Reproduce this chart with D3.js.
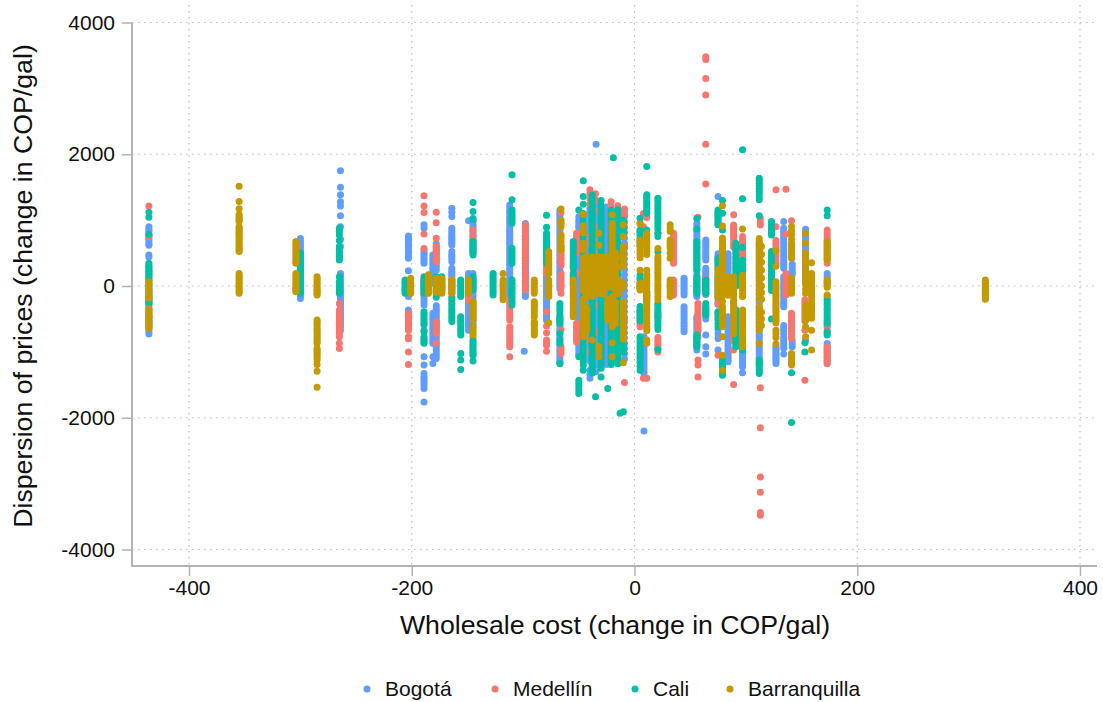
<!DOCTYPE html>
<html>
<head>
<meta charset="utf-8">
<script src="https://cdn.jsdelivr.net/npm/d3@7"></script>
<style>
    html, body { margin: 0; padding: 0; background: #fff; }
    text { font-family: "Liberation Sans", Arial, sans-serif; fill: #111; }
</style>
</head>
<body>
<svg id="chart" width="1103" height="702"></svg>
<script>
// each row: [wholesale cost change, [price dispersion changes]]
const cities = ["Bogotá", "Medellín", "Cali", "Barranquilla"];
const cityColors = ["#619CFF", "#F8766D", "#00BFA5", "#C49A00"];
const xTicks = [-400, -200, 0, 200, 400];
const yTicks = [-4000, -2000, 0, 2000, 4000];

const bogota = [
    [-436, [900,860,830,790,760,720,690,650,620,470,440,290,250,220,180,150,110,80,40,10,-30,-60,-100,-130,-170,-200,-240,-270,-300,-340,-380,-410,-450,-480,-520,-550,-590,-620,-660,-700,-730]],
    [-300, [720,680,650,610,580,540,510,470,440,400,370,330,300,260,230,190,160,120,90,50,20,-20,-50,-90,-120,-160,-190]],
    [-264, [1750,1500,1385,1280,1215,1065,900,710,600,190,150,120,80,50,10,-20,-60,-90,-130,-160,-200,-230,-270,-300,-340,-370,-410,-440,-480,-510,-550,-580,-630,-670]],
    [-203, [760,730,710,680,650,620,590,560,530,500,470,440,420,233,-160,-365,-400,-440,-480,-520,-570,-620]],
    [-189, [930,880,550,510,480,440,410,380,345,90,50,20,-10,-50,-90,-120,-150,-190,-240,-290,-670,-1075,-1200,-1330,-1370,-1400,-1440,-1470,-1510,-1555,-1760]],
    [-181, [470,430,400,360,330,290,260,220,190,150,120,80,40,-415,-450,-490,-520,-560,-600,-640,-680,-720,-760,-800,-840,-870,-1075,-1175]],
    [-178, [640,600,560,520,480,440,400,360,320,280,240,-300,-340,-380,-420,-460,-500,-540,-580,-620,-660,-700,-740,-780,-820,-860,-900,-940,-980,-1020,-1060,-1100]],
    [-164, [1180,1120,1055,877,840,810,770,740,710,680,650,624,522,480,450,410,370,270,230,200,170,140,100,60,20,-20,-60,-100]],
    [-149, [990,190,150,120,80,50,10,-20,-60,-90,-130,-160,-200,-230,-270,-300,-340,-370,-410,-440,-480,-510,-550,-590,-630,-670]],
    [-145, [1030,990,960,920,890,850,820,780,750,710,680,640,610,580,560,530,500,190,140,100,60,20,-20,-60,-100,-140,-180,-220,-260,-300,-340,-380,-420,-460,-500,-530,-570,-600]],
    [-112, [1230,1190,1150,1120,1080,1040,1010,970,940,900,870,830,800,770,730,700,660,630,590,550,520,490,450,410,380,340,310,270,240,190,150,120,80,50,10,-20,-60,-90,-130,-160]],
    [-98, [950,910,880,840,810,770,740,700,670,630,600,560,530,500,460,420,390,350,320,280,250,210,180,140,110,70,40,0,-30,-70,-100,-130,-160]],
    [-99, [-990]],
    [-79, [190,150,120,80,50,10,-20,-60,-90,-130,-160,-200,-230,-270,-300,-340,-370,-410,-440,-480,-520]],
    [-67, [1150,1110,1080,1040,1000,960,920,880,840,800,760,720,680,640,600,560,520,480,440,400,360,320,280,240,200,160,120,80,40,0,-40,-466,-500,-540,-580,-620,-660,-700,-740,-780,-820,-860,-900,-940,-980,-1020,-1060,-1100,-1140,-1176]],
    [-50, [1050,1000,960,920,890,840,800,760,720,680,640,600,560,520,480,440,400,360,320,280,240,200,160,120,80,40,0,-40,-80,-120,-160,-200,-240,-280,-320,-360,-400,-440,-480,-520,-560,-600,-640,-680,-720,-760,-800,-840,-880,-920,-960,-1000,-1040]],
    [-40, [1180,1140,1100,1060,1020,980,940,900,860,820,780,740,700,660,620,580,540,500,460,420,380,340,300,260,220,180,140,100,60,20,-20,-60,-100,-140,-180,-220,-260,-300,-340,-380,-420,-460,-500,-540,-580,-620,-660,-700,-740,-780,-820,-860,-900,-940,-980,-1020,-1060,-1100,-1140,-1280,-1340,-1400]],
    [-34.5, [2150,1300,1230,1150,1060,970,880,790,700,610,520,430,340,250,160,70,-20,-110,-200,-290,-380,-470,-560,-650,-740,-830,-920,-1010,-1100,-1200,-1300]],
    [-25, [1200,1160,1120,1080,1040,1000,960,920,880,840,800,760,720,680,640,600,560,520,480,440,400,360,320,280,240,200,160,120,80,40,0,-40,-80,-120,-160,-200,-240,-280,-320,-360,-400,-440,-480,-520,-560,-600,-640,-680,-720,-760,-800,-840,-880,-920,-960,-1000,-1040,-1080,-1120,-1190]],
    [-15, [1150,1110,1070,1030,990,950,910,870,830,790,750,710,670,630,590,550,510,470,430,390,350,310,270,230,190,150,110,70,30,-10,-50,-90,-130,-170,-210,-250,-290,-330,-370,-410,-450,-490,-530,-570,-610,-650,-690,-730,-770,-810,-850,-890,-930,-970,-1010,-1050,-1090,-1130,-1170]],
    [-9, [1130,1050,970,890,810,730,650,570,490,410,330,250,170,90,10,-70,-150,-230,-310,-390,-470,-550,-630,-710,-790,-870,-950,-1030,-1110]],
    [8.5, [-2200,-770,-810,-850,-890,-930,-970,-1010,-1050,-1090,-1130,-1170,-1210,-1250,-1290,-1330]],
    [44.5, [116,90,60,30,0,-30,-60,-100,-137,-314,-350,-390,-430,-470,-510,-550,-590,-620,-660,-695]],
    [56, [953,910,870,830,790,750,710,670,630,590,550,510,470,430,390,350,310,250,193,140,100,60,20,-20,-60,-100,-130,-160,-466,-500,-540,-580,-620,-660,-700,-740,-780,-820,-850,-890,-922,-973]],
    [64, [700,660,620,580,540,500,470,430,395,270,230,200,170,140,110,80,40,0,-40,-70,-100,-130,-330,-370,-410,-450,-500,-745,-922,-1034]],
    [75, [1360,1115,1070,1020,970,930,490,450,420,380,340,300,260,200,150,100,50,0,-40,-70,-110,-140,-180,-210,-250,-280,-665,-730,-796,-973]],
    [84, [490,450,420,380,340,300,260,230,190,-466,-500,-540,-580,-620,-660,-700,-740,-780,-820,-860,-900,-940,-980,-1020,-1060,-1090,-1120,-1150]],
    [97, [-973,-1010,-1040,-1080,-1110,-1140,-1170,-1200,-1227,-1318]],
    [112, [650,610,570,530,490,450,410,370,330,290,250,210,170,130,90,50,10,-30,-70,-110,-150,-190,-230,-270,-310,-350,-390,-430,-470,-510,-550,-590,-630,-670,-710,-750,-790,-830,-870,-910,-950,-990,-1030,-1070,-1100,-1140,-1176]],
    [127, [-922,-950,-980,-1020,-1050,-1080,-1110,-1140,-1176]],
    [134, [978,877,840,800,760,720,680,640,600,560,520,480,440,400,360,330,300,269,142,100,60,20,-20,-60,-100,-140,-180,-220,-260,-290,-314,-600,-640,-680,-730,-780,-820,-860,-900,-940,-1034]],
    [141.6, [330,290,250,210,170,-830,-880,-922]],
    [153.6, [860,820,780,740,700,660,620,580,540,500,460,420,380,340,300,260,220,180,140,100,60,-660,-820]],
    [173, [190,150,120,80,40,-872,-910,-950,-990,-1030,-1070,-1100,-1140,-1176]]
];

const medellin = [
    [-436, [1215,750,-570,-620]],
    [-303, [600,540]],
    [-265, [-264,-370,-410,-440,-480,-510,-550,-580,-620,-650,-690,-720,-770,-870,-948]],
    [-203, [-415,-450,-480,-510,-540,-580,-610,-640,-670,-770,-800,-1000,-1190]],
    [-189, [1370,1215,1115,790,570,-110]],
    [-178, [1120,960,725,600,560,530,490,460,420,390,370,-542,-570,-600,-630,-660,-690,-720,-870]],
    [-164, [90,50,20,-20,-50,-110,-160]],
    [-149, [-110,-160,-210]],
    [-145, [850,750,690,640,-770]],
    [-112, [-213,-250,-280,-320,-360,-400,-440,-480,-517,-618,-650,-690,-730,-770,-810,-850,-880,-922,-1075]],
    [-98, [927,880,826,750,710,670,630,590,550,510,470,430,390,345,270,190,150,120,80,50,0,-60]],
    [-79, [345,310,270,230,190,-390,-608,-710,-820,-860,-900,-990]],
    [-66, [1120,960,600,560,530,490,460,420,390,350,320,190,140,100,60,20,-30,-110,-660,-922,-970,-1024]],
    [-52, [800,760,720,680,650,610,570,530,500,190,-570,-610,-640,-680,-710,-750,-780,-820,-850]],
    [-40, [1460,1400,1320,1240,750,700,640,-750,-820,-1000]],
    [-35, [1400,1300,1150,900,700,500,200,-300,-700,-900]],
    [-21, [1280,1200,1100,900,600,-400,-700,-950]],
    [-15, [1220,1150,1050,950,700,450,-600,-1060]],
    [-9, [1170,1080,900,600,-500,-1465]],
    [5, [960,820,-380,-420,-460,-500,-540,-580,-620]],
    [8, [1100,900,-1400]],
    [11, [1040,-90,-130,-170,-640,-1400]],
    [21, [800,-400,-440,-480,-780,-820,-860,-900,-940,-1000]],
    [35, [800,760,720,680,640,600,560,530,490,450,420,380,345,90,50,20,-20,-60,-100,-137]],
    [57, [1045,-264,-300,-340,-380,-420,-460,-500,-540,-580,-620,-660,-700,-770,-1125,-1200,-1380]],
    [64, [3480,3440,3150,2900,2150,1550,100,50,0,-50,-110]],
    [75, [-264,-400,-1050]],
    [89, [1080,927,890,860,820,790,750,710,660,620,590,-780,-830,-973,-1495]],
    [97, [750,700,660,620,590,550,520,480,450,410,370,330,300]],
    [113, [1030,980,927,-1546,-2150,-2900,-3130,-3440,-3480]],
    [127, [1460,900,690,650,610,570,530,490,450,400,345]],
    [136, [1470,790,190,150,120,80,50,20,-20,-50,-80,-110,-137]],
    [141, [990,-415,-450,-480,-520,-560,-600,-640,-680,-720,-760,-796]],
    [153, [-1430,-210,-250,-290,-330,-370,-410,-450,-490,-530,-670]],
    [173, [850,800,760,720,680,640,600,560,520,480,430,390,345,-570,-600,-630,-680,-720,-922,-960,-1000,-1040,-1080,-1130,-1176]]
];

const cali = [
    [-436, [1120,1045,780,345,310,280,240,210,170,140,90,-160,-190,-210,-240,-265,-470]],
    [-300, [500,460,430,390,360,320,290,250,220,180,150,110,80,40,10,-30,-60,-80,-110]],
    [-265, [877,830,775,690,600,560,530,490,460,430,395,140,65,30,0,-30,-60,-80,-110]],
    [-206, [90,60,40,10,-20,-40,-60,-80,-110]],
    [-189, [140,110,80,50,20,-10,-40,-70,-110,-390,-420,-450,-490,-520,-560,-590,-695,-770,-800,-820,-850,-870]],
    [-178, [140,110,80,50,20,-10,-40,-70,-100,-130,-170]],
    [-173, [140,110,70,30,0,-30,-70]],
    [-164, [-187,-220,-260,-290,-330,-370,-400,-440,-470,-500,-540]],
    [-156, [90,60,30,0,-30,-60,-100,-130,-160,-466,-500,-530,-570,-600,-640,-670,-710,-745,-1024,-1125,-1267]],
    [-145, [1267,1130,1013,674,640,610,570,540,500,470,140,100,70,30,0,-30,-60,-820,-850,-880,-910,-940,-970,-1000,-1030,-1050,-1140]],
    [-127, [190,160,130,100,70,30,0,-30,-70,-100,-137]],
    [-110, [1688,1308,1155,1120,1080,1050,1020,990,953,572,530,500,460,420,380,345,90,50,20,-20,-50,-90,-120,-160,-210,-250,-290]],
    [-79, [1075,892,800,760,720,690,650,610,572,540,500,470,430,390,345]],
    [-67, [-264,-300,-340,-380,-420,-460,-500,-530,-570,-720,-820,-870,-1176]],
    [-55, [674,640,600,560,530,490,460,430,390,360,330,300,270,190,160,130,90,40]],
    [-50, [1155,-1075,-1430,-1480,-1530,-1580,-1630]],
    [-46, [1597,1360,1240,1100,1050,1000,950,900,850,800,750,700,650,600,550,500,450,400,350,300,250,200,150,100,50,0,-50,-100,-150,-200,-250,-300,-350,-400,-450,-500,-550,-600,-650,-700,-750,-800,-850,-900,-950,-1000,-1050,-1100,-1150,-1200,-1280]],
    [-38, [1380,1340,1300,1250,1200,1150,1110,1060,1020,980,930,880,840,800,750,700,660,610,570,530,480,430,390,340,300,250,210,160,120,70,30,-20,-60,-110,-150,-200,-240,-290,-330,-380,-420,-470,-510,-560,-600,-650,-690,-740,-780,-830,-870,-910,-960,-1000,-1050,-1090,-1140,-1190,-1230,-1280,-1320]],
    [-35, [-1683]],
    [-30, [1298,1230,1180,1130,1090,1040,1000,950,910,860,820,770,730,680,640,590,550,500,460,410,370,320,280,230,190,140,100,50,10,-40,-80,-130,-170,-220,-260,-310,-350,-400,-440,-490,-530,-580,-620,-670,-710,-760,-800,-850,-890,-930,-980,-1020,-1070,-1110,-1160,-1200,-1250,-1380]],
    [-24, [-1556]],
    [-21, [1150,1100,1060,1010,970,920,880,830,790,740,700,650,610,560,520,470,430,380,340,290,250,200,160,110,70,20,-20,-70,-110,-160,-200,-250,-290,-340,-380,-430,-470,-520,-560,-610,-650,-700,-740,-790,-830,-880,-920,-970,-1010,-1060,-1100,-1150,-1190]],
    [-19, [1945]],
    [-15, [1160,1110,1070,1020,980,930,890,840,800,750,710,660,620,570,530,480,440,390,350,300,260,210,170,120,80,30,-10,-60,-100,-150,-190,-240,-280,-330,-370,-420,-460,-510,-550,-600,-640,-690,-730,-780,-820,-870,-910,-960,-1000,-1050,-1090,-1140,-1180]],
    [-13, [-1930]],
    [-10, [-1910,1000,950,900,850,800,-900,-950,-1000]],
    [5, [1030,850,820,780,740,700,660,620,170,130,100,60,30,-10,-40,-310,-340,-380,-410,-450,-490,-530,-770,-800,-840,-880,-920,-960,-1000,-1040,-1080,-1120,-1160,-1220,-1278]],
    [11, [1815,1384,1350,1320,1280,1250,1210,1180,1140,1105,850,-100,-140,-180,-220,-260]],
    [21, [1333,1300,1260,1220,1180,1140,1100,1060,1020,980,940,900,860,800,750,520,-264,-300,-340,-380,-420,-460,-500,-540,-580,-620,-660,-963]],
    [56, [1030,867,674,640,600,570,530,490,460,420,390,350,320,280,243,142,100,70,30,0,-30,-60,-80,-110,-745,-770,-800,-830,-860,-890,-922]],
    [64, [90,50,20,-10,-40,-70,-110,-264,-300,-330,-360,-390,-420,-440]],
    [75, [1155,1120,1080,1050,1020,970,930,420,390,350,300,243,142,100,70,30,0,-30,-70,-110,-160,-390,-420,-450,-490,-520,-570,-620]],
    [79, [1298,1105,850,-1125,-1160,-1200,-1240,-1270,-1310,-1353]],
    [91, [650,610,580,540,500,470,430,400,360,330,290,260,220,190,150,120,80,40,0,-360,-400,-430,-470,-500,-540,-570,-610,-640,-680,-710,-750,-780,-820,-850,-890,-922]],
    [97, [2068,1323,588,395,360,330,290,260,220,190,-770,-800,-840,-870,-900,-940,-973]],
    [112, [1637,1600,1560,1520,1480,1440,1400,1350,1308,1065,-1125,-1160,-1190,-1220,-1260,-1290,-1328]],
    [123, [978,940,900,870,840,810,775,522,490,450,410,370,330,295,260,220,180,150,110,80,40,0,-30,-70,-500]],
    [141, [-2073,-1318]],
    [153, [-860,-1000]],
    [173, [1155,1065,-160,-200,-230,-270,-300,-340,-370,-410,-440,-480,-510,-540,-570,-700,-745]]
];

const barranquilla = [
    [-436, [65,30,10,-15,-40,-65,-90,-115,-140,-165,-187,-340,-370,-400,-430,-460,-490,-520,-550,-580,-610,-645]],
    [-355, [1516,1283,1171,1080,1050,1030,1000,978,902,875,850,825,800,775,750,720,690,660,630,600,570,545,522,190,160,130,100,70,40,10,-20,-50,-80,-110]],
    [-304, [674,640,610,575,540,505,470,435,400,370,345,190,155,120,90,60,30,0,-25,-50,-70,-86]],
    [-285, [140,110,80,50,20,-10,-40,-65,-90,-115,-137,-517,-545,-570,-605,-640,-670,-700,-730,-760,-790,-820,-850,-872,-948,-975,-1000,-1030,-1060,-1090,-1125,-1190,-1293,-1536]],
    [-201, [116,90,60,30,0,-25,-50,-80,-110]],
    [-185, [170,140,110,80,50,20,-10,-40,-70,-110]],
    [-178, [116,80,50,25,0,-30,-60,-80,-100]],
    [-173, [116,90,60,30,0,-30,-60,-85,-110]],
    [-164, [90,60,30,0,-30,-70,-110]],
    [-149, [90,60,30,0,-30,-70,-110]],
    [-145, [-238,-270,-300,-335,-370,-405,-440,-480,-517,-618,-650,-680,-715,-745]],
    [-118, [190,90,60,30,0,-30,-60,-90,-130,-170,-210]],
    [-90, [90,60,30,0,-30,-70,-110,-238,-270,-300,-335,-370,-420,-466,-542,-570,-600,-635,-670,-710,-745]],
    [-77, [520,470,420,370,340,310,280,250,220,190,90,60,30,0,-30,-60,-100,-130,-160,-557]],
    [-66, [1170,1000,950,900,775,740,700,660,620,580,547]],
    [-55, [90,55,20,-15,-50,-85,-120,-155,-190,-225,-260,-295,-330,-365,-400,-435,-466]],
    [-46, [1090,920,860,810,650,600,550,430,395,360,325,290,255,220,185,150,115,80,40,0,-35,-70,-200,-230,-260,-295,-330,-365,-400,-435,-470,-505,-540,-575,-610,-645,-680,-770]],
    [-43, [440,400,360,320,280,240,200,160,120,80,40,0,-40,-80,-120,-160,-330,-380,-430,-480,-530,-580,-630,-680]],
    [-38, [440,405,370,335,300,265,230,195,160,125,90,55,20,-15,-50,-85,-120,-160,-820]],
    [-32, [800,620,440,405,370,335,300,265,230,195,160,125,90,55,20,-15,-50,-80,-110,-920,-970,-1070]],
    [-28, [440,400,360,320,280,240,200,160,120,80,40,0,-40,-80,-120]],
    [-24, [440,405,370,335,300,265,230,195,160,125,90,55,20,-20,-210,-245,-280,-315,-350,-390,-430,-475,-517]],
    [-20, [1080,950,920,890,855,820,785,750,715,680,645,610,575,540,505,470,435,400,365,330,295,260,225,190,155,120,85,50,15,-20,-160,-210,-260,-295,-330,-365,-400,-435,-470,-505,-540,-580,-620,-860,-1075]],
    [-17, [500,430,360,290,220,150,80,10,-60,-130,-250,-330,-410,-490,-570]],
    [-14, [440,290,90,60,30,0,-30,-70,-110]],
    [-10, [930,750,600,565,530,495,460,430,400,350,300,40,10,-20,-240,-280,-320,-360,-400,-440,-480,-520,-560,-600,-640,-680,-720,-765,-810,-1165]],
    [5, [940,700,670,640,610,580,545,510,470,430,240,40,10,-20,-40,-60]],
    [11, [800,760,720,680,640,600,560,520,480,240,180,120,80,40,0,-40,-80,-120,-160,-200,-240,-280,-320,-360,-400,-440,-480,-520,-565,-610,-680,-820,-870]],
    [21, [570,445,410,370,330,290,250,210,170,130,90,50,10,-30,-70,-110,-160,-210]],
    [32, [930,880,830,700,670,640,610,580,500,420,90,60,30,0,-30,-70,-110,-160]],
    [79, [1217,912,730,690,650,610,570,530,490,450,410,370,330,290,250,210,170,130,90,50,10,-30,-70,-110,-150,-230,-310,-360,-410,-450,-490,-555,-620,-770,-1050,-1280]],
    [75, [250,190,130,70,10,-50,-110,-170]],
    [84, [142,100,60,20,-20,-60,-100,-140]],
    [89, [142,105,70,35,0,-35,-70,-115,-160,-215,-250,-290,-330,-370,-405,-440,-480,-520,-560,-600,-660,-720]],
    [97, [867,165,125,90,55,20,-15,-50,-105,-160,-365,-400,-440,-475,-510,-550,-590,-625,-660,-715,-770,-830,-875,-922]],
    [112, [720,680,640,600,560,520,480,440,400,360,320,280,240,200,160,120,80,20,-60,-120,-200,-314,-350,-390,-430,-470,-510,-550,-610,-670,-872]],
    [114, [600,480,360,240,120,0,-100,-200,-400,-500,-600]],
    [127, [540,300,65,30,0,-35,-70,-105,-140,-175,-210,-245,-280,-315,-350,-385,-420,-455,-490,-525,-560,-670,-725,-780,-880]],
    [141, [902,840,780,710,650,610,570,530,490,455,420,117,85,50,15,-20,-65,-110,-1024,-1070,-1120,-1160,-1200]],
    [153.6, [800,650,500,460,420,380,340,300,260,220,180,140,100,60,20,-50,-110,-290,-325,-360,-400,-440,-480,-520,-620,-770]],
    [159, [354,190,155,120,85,50,15,-20,-55,-90,-125,-160,-210,-260,-300,-340,-375,-410,-450,-490,-670,-973]],
    [173, [674,635,600,565,530,495,460,430,400,90,65,40,10,-20,-137]],
    [315, [90,70,50,30,10,-10,-30,-50,-70,-90,-110,-130,-150,-175,-200]]
];

const citySeries = [bogota, medellin, cali, barranquilla];

const svg = d3.select("#chart");

const x = d3.scaleLinear().domain([-400, 400]).range([189, 1080]);
const y = d3.scaleLinear().domain([-4000, 4000]).range([549.5, 22.5]);

const plotLeft = 132, plotRight = 1097, plotTop = 5, plotBottom = 566;
const axisGray = "#b3b3b3";

// dotted grid
const grid = svg.append("g");
grid.selectAll(".gx").data(xTicks).join("line")
    .attr("x1", d => x(d)).attr("x2", d => x(d))
    .attr("y1", plotTop).attr("y2", plotBottom);
grid.selectAll(".gy").data(yTicks).join("line")
    .attr("y1", d => y(d)).attr("y2", d => y(d))
    .attr("x1", plotLeft).attr("x2", plotRight);
grid.selectAll("line")
    .attr("stroke", "#bdbdbd")
    .attr("stroke-width", 1.2)
    .attr("stroke-dasharray", "1.5 4.5");

// points, last city on top
citySeries.forEach((rows, i) => {
    const pts = rows.flatMap(([cost, ys]) => ys.map(v => [cost, v]));
    svg.append("g").selectAll("circle").data(pts).join("circle")
        .attr("cx", d => x(d[0]))
        .attr("cy", d => y(d[1]))
        .attr("r", 3.5)
        .attr("fill", cityColors[i]);
});

// axes
const xAxis = svg.append("g").attr("transform", `translate(0, ${plotBottom})`)
    .call(d3.axisBottom(x).tickValues(xTicks).tickFormat(d => String(d)).tickSize(10).tickSizeOuter(0).tickPadding(4));
const yAxis = svg.append("g").attr("transform", `translate(${plotLeft}, 0)`)
    .call(d3.axisLeft(y).tickValues(yTicks).tickFormat(d => String(d)).tickSize(10).tickSizeOuter(0).tickPadding(7));

[xAxis, yAxis].forEach(a => {
    a.attr("font-family", null);
    a.select(".domain").remove();
    a.selectAll("line").attr("stroke", axisGray).attr("stroke-width", 1.5);
    a.selectAll("text").attr("font-size", 21).attr("fill", "#111");
});

svg.append("line").attr("x1", plotLeft).attr("x2", plotRight)
    .attr("y1", plotBottom).attr("y2", plotBottom)
    .attr("stroke", axisGray).attr("stroke-width", 2);
svg.append("line").attr("x1", plotLeft).attr("x2", plotLeft)
    .attr("y1", y(4000)).attr("y2", plotBottom + 1)
    .attr("stroke", axisGray).attr("stroke-width", 2);

// axis titles
svg.append("text").attr("x", 615).attr("y", 634)
    .attr("text-anchor", "middle").attr("font-size", 26.7)
    .text("Wholesale cost (change in COP/gal)");
svg.append("text").attr("transform", "translate(32, 286) rotate(-90)")
    .attr("text-anchor", "middle").attr("font-size", 26.7)
    .text("Dispersion of prices (change in COP/gal)");

// legend
const legendDotX = [367, 495, 635, 730];
const legend = svg.append("g").selectAll("g").data(cities).join("g")
    .attr("transform", (d, i) => `translate(${legendDotX[i]}, 689)`);
legend.append("circle").attr("r", 3.5).attr("fill", (d, i) => cityColors[i]);
legend.append("text").attr("x", 18).attr("y", 7).attr("font-size", 21).text(d => d);
</script>
</body>
</html>
